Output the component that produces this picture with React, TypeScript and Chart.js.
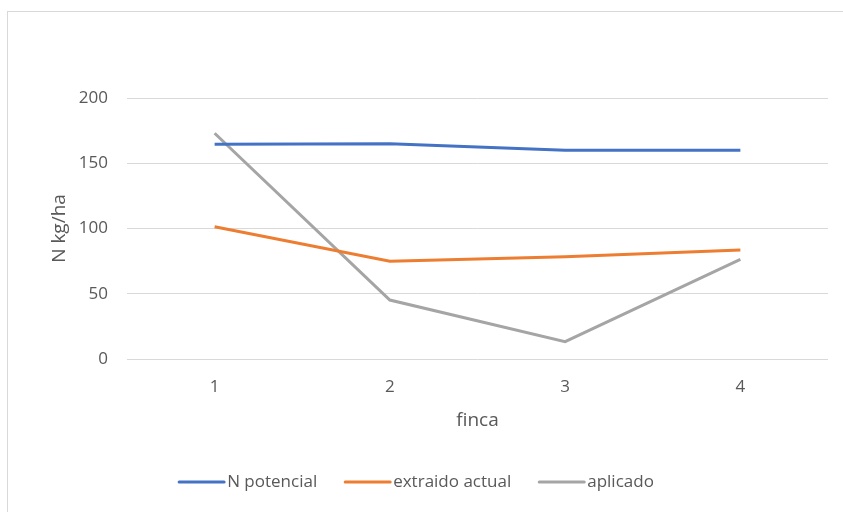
import React, { useEffect, useRef } from "react";
import { Chart, registerables } from "chart.js";

Chart.register(...registerables);

// Farms and nitrogen figures (kg/ha)
const fincas = ["1", "2", "3", "4"];
const nPotencial = [164.5, 165, 160, 160];
const extraidoActual = [101.4, 75, 78.4, 83.5];
const aplicado = [173, 45.2, 13.3, 76.4];

const yTicks = [0, 50, 100, 150, 200];

const FONT = "'Open Sans', sans-serif";
const TEXT = "#595959";

// Thin grey frame around the whole chart
const framePlugin = {
  id: "frame",
  beforeDraw(chart: Chart) {
    const ctx = chart.ctx;
    ctx.save();
    ctx.fillStyle = "#ffffff";
    ctx.fillRect(0, 0, chart.width, chart.height);
    ctx.strokeStyle = "#d9d9d9";
    ctx.lineWidth = 1;
    ctx.strokeRect(7.5, 11.5, chart.width + 10, chart.height + 10);
    ctx.restore();
  },
};

// Legend row under the axis title: short line sample followed by the series name
const legendPlugin = {
  id: "bottomLegend",
  afterDraw(chart: Chart) {
    const ctx = chart.ctx;
    const sample = 45;
    const gap = 3;
    const itemGap = 28;
    ctx.save();
    ctx.font = `17px ${FONT}`;
    ctx.textBaseline = "middle";
    ctx.textAlign = "left";
    const items = chart.data.datasets.map((ds: any) => ({
      label: ds.label as string,
      color: ds.borderColor as string,
      w: ctx.measureText(ds.label).width,
    }));
    const total =
      items.reduce((s, it) => s + sample + gap + it.w, 0) + itemGap * (items.length - 1);
    const y = chart.height - 30;
    let x = chart.width / 2 - 5 - total / 2;
    for (const it of items) {
      ctx.strokeStyle = it.color;
      ctx.lineWidth = 3;
      ctx.lineCap = "round";
      ctx.beginPath();
      ctx.moveTo(x, y);
      ctx.lineTo(x + sample, y);
      ctx.stroke();
      ctx.fillStyle = TEXT;
      ctx.fillText(it.label, x + sample + gap, y);
      x += sample + gap + it.w + itemGap;
    }
    ctx.restore();
  },
};

export default function App() {
  const ref = useRef<HTMLCanvasElement | null>(null);

  useEffect(() => {
    if (!ref.current) return;
    const line = (label: string, data: number[], color: string) => ({
      label,
      data,
      borderColor: color,
      backgroundColor: color,
      borderWidth: 3,
      pointRadius: 0,
      tension: 0,
    });
    const chart = new Chart(ref.current, {
      type: "line",
      data: {
        labels: fincas,
        datasets: [
          line("N potencial", nPotencial, "#4472C4"),
          line("extraido actual", extraidoActual, "#ED7D31"),
          line("aplicado", aplicado, "#A5A5A5"),
        ],
      },
      options: {
        animation: false,
        responsive: false,
        layout: { padding: { left: 48, right: 15, top: 98, bottom: 47 } },
        plugins: {
          tooltip: { enabled: false },
          legend: { display: false },
        },
        scales: {
          x: {
            offset: true,
            grid: { display: false },
            border: { display: false },
            ticks: {
              color: TEXT,
              padding: 10,
              font: { family: FONT, size: 17 },
            },
            title: {
              display: true,
              text: "finca",
              color: TEXT,
              padding: { top: 0, bottom: 33 },
              font: { family: FONT, size: 19 },
            },
            afterFit(scale: any) {
              scale.height = 106;
            },
          },
          y: {
            min: 0,
            max: 200,
            afterBuildTicks(scale: any) {
              scale.ticks = yTicks.map((v) => ({ value: v }));
            },
            grid: { color: "#d9d9d9", lineWidth: 1, drawTicks: false },
            border: { display: false },
            ticks: {
              color: TEXT,
              padding: 19,
              font: { family: FONT, size: 17 },
            },
            title: {
              display: true,
              text: "N kg/ha",
              color: TEXT,
              padding: { top: 0, bottom: 0 },
              font: { family: FONT, size: 19 },
            },
            afterFit(scale: any) {
              scale.width = 79;
            },
          },
        },
      },
      plugins: [framePlugin, legendPlugin],
    });
    return () => chart.destroy();
  }, []);

  return (
    <div style={{ position: "absolute", left: 0, top: 0, width: 843, height: 512 }}>
      <canvas ref={ref} width={843} height={512} style={{ display: "block" }} />
    </div>
  );
}
